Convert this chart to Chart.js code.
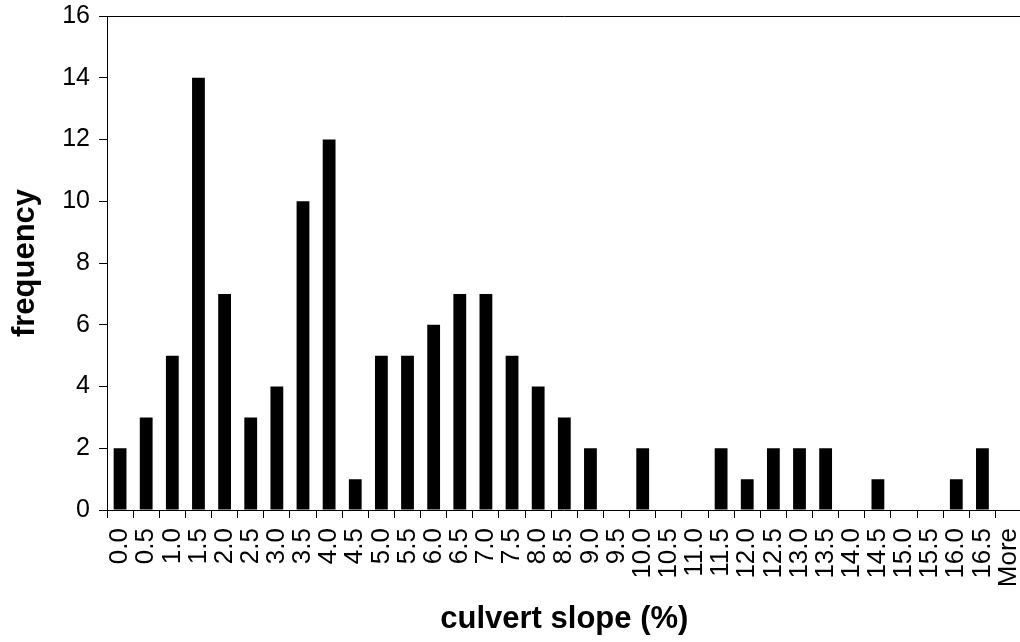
<!DOCTYPE html>
<html>
<head>
<meta charset="utf-8">
<script src="https://cdn.jsdelivr.net/npm/chart.js@4/dist/chart.umd.min.js"></script>
<style>
  html, body { margin: 0; padding: 0; background: #fff; overflow: hidden; }
  #chart1 { display: block; }
</style>
</head>
<body>
<canvas id="chart1" width="1050" height="642"></canvas>
<script>

const slopes = ['0.0', '0.5', '1.0', '1.5', '2.0', '2.5', '3.0', '3.5', '4.0', '4.5',
  '5.0', '5.5', '6.0', '6.5', '7.0', '7.5', '8.0', '8.5', '9.0', '9.5',
  '10.0', '10.5', '11.0', '11.5', '12.0', '12.5', '13.0', '13.5', '14.0', '14.5',
  '15.0', '15.5', '16.0', '16.5', 'More']

const frequency = [2, 3, 5, 14, 7, 3, 4, 10, 12, 1,
  5, 5, 6, 7, 7, 5, 4, 3, 2, 0,
  2, 0, 0, 2, 1, 2, 2, 2, 0, 1,
  0, 0, 1, 2, 0]

const yTicks = [0, 2, 4, 6, 8, 10, 12, 14, 16]

Chart.defaults.color = '#000'
Chart.defaults.font.family = '"Liberation Sans", Arial, sans-serif'

const printSlopeChart = () => {

  const data = {
    labels: slopes,
    datasets: [{
      data: frequency,
      backgroundColor: '#000',
      borderWidth: 0,
      barPercentage: 0.49,
      categoryPercentage: 1
    }]
  }

  const options = {
    responsive: false,
    animation: false,
    layout: {
      padding: { left: 0, top: 16, right: 17, bottom: 0 }
    },
    plugins: {
      legend: { display: false },
      tooltip: { enabled: false }
    },
    scales: {
      x: {
        grid: {
          offset: true,
          drawOnChartArea: false,
          tickLength: 8,
          tickColor: '#000',
          lineWidth: 1
        },
        border: { color: '#000', width: 1 },
        ticks: {
          autoSkip: false,
          minRotation: 90,
          maxRotation: 90,
          padding: 10,
          font: { size: 26 }
        },
        title: {
          display: true,
          text: 'culvert slope (%)',
          font: { size: 31, weight: 'bold' },
          padding: { top: 0, bottom: 4 }
        },
        afterFit: scale => { scale.height = 132 }
      },
      y: {
        min: 0,
        max: 16,
        afterBuildTicks: scale => { scale.ticks = yTicks.map(value => ({ value })) },
        grid: {
          color: ctx => ctx.tick && ctx.tick.value === 16 ? '#000' : 'rgba(0,0,0,0)',
          tickColor: '#000',
          tickLength: 8,
          lineWidth: 1
        },
        border: { color: '#000', width: 1 },
        ticks: {
          padding: 9,
          font: { size: 25 }
        },
        title: {
          display: true,
          text: 'frequency',
          font: { size: 31, weight: 'bold' },
          padding: { top: 7, bottom: 0 }
        },
        afterFit: scale => {
          scale.width = 107
          scale.paddingTop = 0
          scale.paddingBottom = 0
        }
      }
    }
  }

  new Chart('chart1', {
    type: 'bar',
    data,
    options
  })

}

printSlopeChart()
</script>
</body>
</html>
